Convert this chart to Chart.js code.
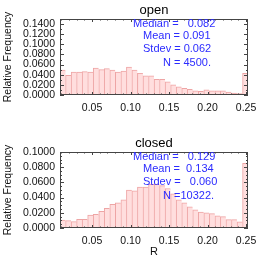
<!DOCTYPE html>
<html lang="en">
<head>
<meta charset="UTF-8">
<title>Relative frequency of R - open / closed</title>
<script src="https://cdn.jsdelivr.net/npm/chart.js@4.4.0/dist/chart.umd.min.js"></script>
<style>
  html, body { margin: 0; padding: 0; background: #fff; }
  canvas { display: block; }
</style>
</head>
<body>
<canvas id="openChart" width="266" height="133"></canvas>
<canvas id="closedChart" width="266" height="133"></canvas>
<script>
// lower edge of each R bin (last bin collects everything above)
const binLo = [0.0084, 0.0156, 0.0228, 0.0299, 0.0371, 0.0443, 0.0515, 0.0587, 0.0658, 0.0730,
               0.0802, 0.0874, 0.0946, 0.1017, 0.1089, 0.1161, 0.1233, 0.1305, 0.1376, 0.1448,
               0.1520, 0.1592, 0.1664, 0.1735, 0.1807, 0.1879, 0.1951, 0.2023, 0.2095, 0.2166,
               0.2238, 0.2310, 0.2382, 0.2454];
const binW = 0.00718;
const rMin = 0.0084, rMax = 0.2525;

const openFreq = [0.049, 0.039, 0.045, 0.045, 0.046, 0.045, 0.053, 0.050, 0.052, 0.049,
                  0.045, 0.047, 0.055, 0.049, 0.043, 0.038, 0.038, 0.031, 0.031, 0.026,
                  0.020, 0.016, 0.013, 0.011, 0.008, 0.007, 0.010, 0.008, 0.008, 0.008,
                  0.006, 0.004, 0.003, 0.043];
const closedFreq = [0.0105, 0.0096, 0.0083, 0.0114, 0.0114, 0.017, 0.018, 0.022, 0.026, 0.031,
                    0.033, 0.037, 0.050, 0.049, 0.054, 0.054, 0.0575, 0.0575, 0.0557, 0.052,
                    0.045, 0.037, 0.033, 0.028, 0.024, 0.021, 0.020, 0.019, 0.016, 0.015,
                    0.011, 0.011, 0.008, 0.085];

const xTicks = [0.05, 0.10, 0.15, 0.20, 0.25];
const openYTicks = [0, 0.02, 0.04, 0.06, 0.08, 0.10, 0.12, 0.14];
const closedYTicks = [0, 0.02, 0.04, 0.06, 0.08, 0.10];

const openStats = ['Median =   0.082', 'Mean = 0.091', 'Stdev = 0.062', 'N = 4500.'];
const closedStats = ['Median =   0.129', 'Mean =  0.134', 'Stdev =   0.060', 'N =10322.'];

const FONT = "'Liberation Sans', Arial, sans-serif";
const statX = [133, 143, 143, 163];
const statY = [24, 36, 49, 63];

// IDL style box: frame all round, ticks pointing inward, plus the stats block
const idlFrame = {
  id: 'idlFrame',
  afterDatasetsDraw(chart, args, opts) {
    const { ctx, chartArea: a, scales } = chart;
    const xs = scales.x, ys = scales.y;
    ctx.save();
    ctx.strokeStyle = '#444';
    ctx.lineWidth = 1;
    ctx.beginPath();
    const tickX = (v, len) => {
      const px = Math.round(xs.getPixelForValue(v)) + 0.5;
      ctx.moveTo(px, a.bottom); ctx.lineTo(px, a.bottom - len);
      ctx.moveTo(px, a.top); ctx.lineTo(px, a.top + len);
    };
    const tickY = (v, len) => {
      const py = Math.round(ys.getPixelForValue(v)) + 0.5;
      ctx.moveTo(a.left, py); ctx.lineTo(a.left + len, py);
      ctx.moveTo(a.right, py); ctx.lineTo(a.right - len, py);
    };
    for (let i = 1; i * 0.01 < xs.max; i++) {
      if (i * 0.01 > xs.min) tickX(i * 0.01, 1.5);
    }
    xTicks.forEach(v => tickX(v, 3));
    const n = Math.round(ys.max / opts.yMinor);
    for (let i = 1; i < n; i++) tickY(i * opts.yMinor, 2);
    opts.yTicks.forEach(v => tickY(v, 4));
    ctx.stroke();
    ctx.strokeRect(Math.round(a.left) + 0.5, Math.round(a.top) + 0.5,
                   Math.round(a.width) - 1, Math.round(a.height) - 1);

    ctx.fillStyle = '#2b2bff';
    ctx.font = '11px ' + FONT;
    ctx.textBaseline = 'middle';
    ctx.textAlign = 'left';
    opts.stats.forEach((s, i) => ctx.fillText(s, statX[i], statY[i]));
    ctx.restore();
  }
};

function makePanel(id, title, freq, yMax, yTicks, yMinor, stats, xTitle) {
  return new Chart(document.getElementById(id), {
    type: 'bar',
    data: {
      datasets: [{
        data: freq.map((f, i) => ({ x: binLo[i] + binW / 2, y: f })),
        backgroundColor: 'rgb(255, 222, 222)',
        borderColor: 'rgb(238, 165, 165)',
        borderWidth: { top: 1, left: 1, right: 0, bottom: 0 },
        borderSkipped: false,
        barPercentage: 1,
        categoryPercentage: 1
      }]
    },
    options: {
      responsive: false,
      animation: false,
      layout: { padding: { left: 0, right: 18, top: 0, bottom: 0 } },
      plugins: {
        legend: { display: false },
        tooltip: { enabled: false },
        title: {
          display: true,
          text: title,
          fullSize: false,
          color: '#000',
          font: { family: FONT, size: 13, weight: 'normal' },
          padding: { top: 2.5, bottom: 0.9 }
        },
        idlFrame: { yTicks, yMinor, stats }
      },
      scales: {
        x: {
          type: 'linear',
          position: 'bottom',
          offset: false,
          min: rMin,
          max: rMax,
          afterBuildTicks: s => { s.ticks = xTicks.map(v => ({ value: v })); },
          afterFit: s => { s.height = 38; },
          grid: { display: false, drawTicks: false },
          border: { display: false },
          ticks: {
            autoSkip: false,
            color: '#111',
            padding: 7,
            maxRotation: 0,
            font: { family: FONT, size: 10.5 },
            callback: v => v.toFixed(2)
          },
          title: {
            display: !!xTitle,
            text: xTitle,
            color: '#111',
            font: { family: FONT, size: 11 },
            padding: { top: 0, bottom: 7 }
          }
        },
        y: {
          min: 0,
          max: yMax,
          afterBuildTicks: s => { s.ticks = yTicks.map(v => ({ value: v })); },
          afterFit: s => { s.width = 60; },
          grid: { display: false, drawTicks: false },
          border: { display: false },
          ticks: {
            autoSkip: false,
            color: '#111',
            padding: 5,
            font: { family: FONT, size: 10.5 },
            callback: v => v.toFixed(4)
          },
          title: {
            display: true,
            text: 'Relative Frequency',
            color: '#111',
            font: { family: FONT, size: 10.5 },
            padding: { top: 1.5, bottom: 0 }
          }
        }
      }
    },
    plugins: [idlFrame]
  });
}

makePanel('openChart', 'open', openFreq, 0.15, openYTicks, 0.01, openStats, '');
makePanel('closedChart', 'closed', closedFreq, 0.10, closedYTicks, 0.005, closedStats, 'R');
</script>
</body>
</html>
